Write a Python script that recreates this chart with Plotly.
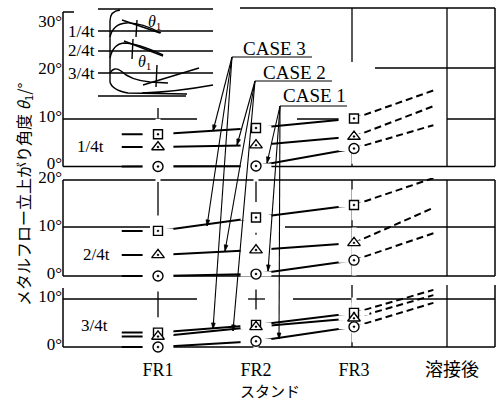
import math
import plotly.graph_objects as go

# ---------------- data ----------------
stand_x = [1, 2, 3]                       # FR1, FR2, FR3
tick_pos = [1, 2, 3, 4]
tick_labels = ["FR1", "FR2", "FR3", "溶接後"]
lead_in_x = 0.63                          # start of short line left of FR1
weld_end_x = 3.81                         # end of dashed (after-welding) lines

# values: FR1, FR2, FR3, after welding (dashed end)   [deg]
case3_14 = [6.8, 8.1, 10.1, 16.0]
case2_14 = [4.1, 4.5, 6.3, 12.7]
case1_14 = [0.0, 0.1, 3.8, 8.7]

case3_24 = [9.4, 12.2, 14.8, 20.4]
case2_24 = [4.4, 5.4, 6.9, 14.2]
case1_24 = [0.0, 0.4, 3.3, 8.9]

case3_34 = [3.0, 4.6, 7.1, 11.9]
case2_34 = [2.2, 4.2, 6.0, 10.8]
case1_34 = [0.0, 1.2, 4.2, 9.2]

panel_labels = ["1/4t", "2/4t", "3/4t"]
ticks_14 = [0, 10, 20, 30]
ticks_24 = [0, 10, 20]
ticks_34 = [0, 10]

# ---------------- geometry ----------------
W, H = 500, 401
ML, MR, MT, MB = 63, 5, 6, 52
PW, PH = W - ML - MR, H - MT - MB
SERIF = "Liberation Serif, 'Noto Sans CJK JP', serif"
CJK = "'Noto Sans CJK JP', sans-serif"


def P(x, y):
    return (x - ML) / PW, (H - MB - y) / PH


def xd(px):
    return (px - 60) / 98.0


panels = [
    dict(ax="y", zero=166.5, ppd=4.75, top=6, bot=168.5, ticks=ticks_14,
         data=[case3_14, case2_14, case1_14]),
    dict(ax="y2", zero=276, ppd=4.8, top=178, bot=278, ticks=ticks_24,
         data=[case3_24, case2_24, case1_24]),
    dict(ax="y3", zero=347, ppd=4.8, top=284, bot=349, ticks=ticks_34,
         data=[case3_34, case2_34, case1_34]),
]

symbols = ["square-dot", "triangle-up-dot", "circle-dot"]
msizes = [9, 11, 10]

fig = go.Figure()
line_traces, blob_traces, mark_traces = [], [], []
for p in panels:
    for vals, sym, ms in zip(p["data"], symbols, msizes):
        line_traces.append(go.Scatter(
            x=[lead_in_x] + stand_x, y=[vals[0]] + vals[:3], yaxis=p["ax"],
            mode="lines", line=dict(color="black", width=2), hoverinfo="skip"))
        line_traces.append(go.Scatter(
            x=[stand_x[-1], weld_end_x], y=[vals[2], vals[3]], yaxis=p["ax"],
            mode="lines", line=dict(color="black", width=2, dash="7px,4px"),
            hoverinfo="skip"))
        blob_traces.append(go.Scatter(
            x=stand_x, y=vals[:3], yaxis=p["ax"], mode="markers",
            marker=dict(symbol="cross-thin", size=22,
                        line=dict(color="white", width=5)),
            hoverinfo="skip", cliponaxis=False))
        mark_traces.append(go.Scatter(
            x=stand_x, y=vals[:3], yaxis=p["ax"], mode="markers",
            marker=dict(symbol=sym, size=ms, color="white",
                        line=dict(color="black", width=1.4)),
            cliponaxis=False))
for t in line_traces + blob_traces + mark_traces:
    fig.add_trace(t)

layout_axes = {}
for i, p in enumerate(panels):
    name = "yaxis" if i == 0 else "yaxis%d" % (i + 1)
    lo = -(p["bot"] - p["zero"]) / p["ppd"]
    hi = (p["zero"] - p["top"]) / p["ppd"]
    d0 = (H - MB - p["bot"]) / PH
    d1 = (H - MB - p["top"]) / PH
    layout_axes[name] = dict(
        domain=[d0, d1], range=[lo, hi], showgrid=False, zeroline=False,
        showline=False, ticks="", tickvals=p["ticks"],
        ticktext=["%d°" % v for v in p["ticks"]], ticklabelshift=-3,
        tickfont=dict(family=SERIF, size=17, color="black"), anchor="x",
        automargin=False)

fig.update_layout(
    width=W, height=H, margin=dict(l=ML, r=MR, t=MT, b=MB),
    paper_bgcolor="white", plot_bgcolor="rgba(0,0,0,0)", showlegend=False,
    xaxis=dict(range=[xd(ML), xd(W - MR)], anchor="y3", showgrid=False,
               zeroline=False, showline=False, ticks="", tickvals=tick_pos,
               ticktext=tick_labels, ticklabelstandoff=8, automargin=False,
               tickfont=dict(family=SERIF, size=18, color="black")),
    **layout_axes)

shapes = []


def seg(x0, y0, x1, y1, w=1.5, layer="below"):
    a, b = P(x0, y0)
    c, d = P(x1, y1)
    shapes.append(dict(type="line", xref="paper", yref="paper", x0=a, y0=b,
                       x1=c, y1=d, line=dict(color="black", width=w),
                       layer=layer))


def path(cmds, w=1.4, fill=None):
    s = ""
    for c in cmds:
        op, pts = c[0], c[1:]
        s += op
        for k in range(0, len(pts), 2):
            a, b = P(pts[k], pts[k + 1])
            s += " %.5f,%.5f " % (a, b)
    sh = dict(type="path", xref="paper", yref="paper", path=s,
              line=dict(color="black", width=w), layer="above")
    if fill:
        sh["fillcolor"] = fill
    shapes.append(sh)


# panel frames
seg(63, 12, 63, 166.5); seg(63, 12, 74, 12)
seg(495, 8, 495, 166.5); seg(63, 166.5, 495, 166.5)
seg(98, 9, 213, 9); seg(240, 8, 495, 8)
seg(63, 180, 63, 276); seg(495, 180, 495, 276)
seg(63, 180, 495, 180); seg(63, 276, 495, 276)
seg(63, 288, 63, 347); seg(495, 285, 495, 347); seg(63, 347, 495, 347)
# horizontal grid segments
for a, b in [(63, 197), (297, 340), (447, 495)]:
    seg(a, 119, b, 119, 1.3)
seg(375, 68, 495, 68, 1.3)
for a, b in [(63, 150), (285, 495)]:
    seg(a, 227, b, 227, 1.3)
for a, b in [(63, 197), (248, 265), (293, 495)]:
    seg(a, 299, b, 299, 1.3)
# vertical grid segments
seg(158, 108, 158, 166.5, 1.3); seg(158, 180, 158, 276, 1.3); seg(158, 288, 158, 347, 1.3)
seg(256, 113, 256, 166.5, 1.3); seg(256, 180, 256, 276, 1.3); seg(256, 287, 256, 347, 1.3)
seg(352, 8, 352, 62, 1.3); seg(352, 153, 352, 166.5, 1.3)
seg(352, 180, 352, 276, 1.3); seg(352, 285, 352, 347, 1.3)
seg(447, 8, 447, 166.5, 1.3); seg(447, 180, 447, 276, 1.3); seg(447, 285, 447, 347, 1.3)

# CASE underlines
seg(232, 57, 312, 57, 1.2, "above")
seg(255, 81, 332, 81, 1.2, "above")
seg(280, 106, 347, 106, 1.2, "above")

# leader lines with small arrowheads
leaders = [((232, 57), [(213, 131), (207, 226), (213, 329)]),
           ((255, 81), [(237, 145), (225, 251), (233, 331)]),
           ((280, 106), [(267, 163), (268, 271), (279, 339)])]
for (tx, ty), tips in leaders:
    for (hx, hy) in tips:
        seg(tx, ty, hx, hy, 1.1, "above")
        dx, dy = hx - tx, hy - ty
        L = math.hypot(dx, dy)
        ux, uy = dx / L, dy / L
        bx, by = hx - 6 * ux, hy - 6 * uy
        nx, ny = -uy, ux
        path([("M", hx, hy), ("L", bx + 1.8 * nx, by + 1.8 * ny),
              ("L", bx - 1.8 * nx, by - 1.8 * ny), ("Z",)], 0.8, "black")

# inset schematic
for yy in (31, 51, 73):
    seg(98, yy, 213, yy, 1.4, "above")
path([("M", 120, 10), ("Q", 110, 11, 110, 21), ("L", 110, 82),
      ("Q", 112, 90, 128, 93), ("L", 187, 94)])
path([("M", 98, 96), ("L", 186, 96)])
path([("M", 142, 93), ("Q", 175, 92, 213, 85)])
path([("M", 110, 37), ("Q", 113, 24, 126, 23), ("Q", 140, 22, 161, 33)])
path([("M", 122, 20), ("L", 160, 33)])
path([("M", 137, 20), ("L", 136, 37)])
path([("M", 110, 58), ("Q", 113, 44, 124, 43), ("Q", 137, 43, 163, 55)])
path([("M", 124, 41), ("L", 163, 56)])
path([("M", 133, 39), ("L", 132, 59)])
path([("M", 110, 73), ("Q", 114, 66, 121, 71), ("Q", 130, 80, 150, 82),
      ("L", 168, 83)])
path([("M", 143, 85), ("L", 199, 68)])
path([("M", 157, 65), ("L", 156, 87)])

annotations = []


def text(x, y, s, size=17, family=SERIF, anchor="center", angle=0):
    a, b = P(x, y)
    annotations.append(dict(x=a, y=b, xref="paper", yref="paper", text=s,
                            showarrow=False, xanchor=anchor, yanchor="middle",
                            textangle=angle,
                            font=dict(family=family, size=size, color="black")))


text(97, 31, "1/4t", 17, anchor="right")
text(97, 51, "2/4t", 17, anchor="right")
text(97, 73, "3/4t", 17, anchor="right")
text(154, 22, "<i>θ</i><sub>1</sub>", 16)
text(144, 63, "<i>θ</i><sub>1</sub>", 16)
text(90, 146, panel_labels[0])
text(96, 254, panel_labels[1])
text(94, 325, panel_labels[2])
text(274, 48, "CASE 3", 19)
text(294, 72, "CASE 2", 19)
text(314, 96, "CASE 1", 19)
text(270, 390, "スタンド", 15, CJK)
text(24, 195, "メタルフロー立上がり角度 <i>θ</i><sub>1</sub>/°", 16, CJK, angle=-90)

fig.update_layout(shapes=shapes, annotations=annotations)
fig.write_html("out.html", config={"displayModeBar": False},
               post_script="document.body.style.margin='0';document.body.style.padding='0';")
